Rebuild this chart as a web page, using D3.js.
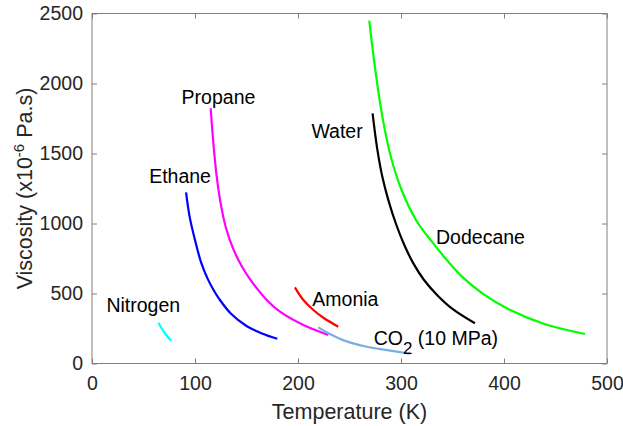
<!DOCTYPE html>
<html>
<head>
<meta charset="utf-8">
<script src="https://cdnjs.cloudflare.com/ajax/libs/d3/7.8.5/d3.min.js"></script>
<style>
    body { margin: 0; background: #fff; }
    svg text { font-family: "Liberation Sans", Arial, Helvetica, sans-serif; }
</style>
</head>
<body>
<div id="chart"></div>
<script>
var width = 623;
var height = 426;
var margin = { top: 13.5, right: 16, bottom: 62.5, left: 92 };

// tick values for the two axes
var x_ticks = [0, 100, 200, 300, 400, 500];
var y_ticks = [0, 500, 1000, 1500, 2000, 2500];

// temperature (K) and viscosity (x10^-6 Pa.s)
var nitrogen_t = [64.4, 70, 76.7];
var nitrogen_v = [291, 225, 163];

var ethane_t = [91.3, 95, 100, 106, 112, 118, 123.6, 135, 150, 165, 179.9];
var ethane_v = [1223, 1040, 882, 720, 610, 525, 460, 355, 268, 215, 177];

var propane_t = [115.2, 118, 121, 125, 130, 137, 145, 154, 169.6, 182.5, 205.2, 229.4];
var propane_v = [1823, 1560, 1340, 1140, 970, 820, 700, 596, 454, 370, 275, 204];

var amonia_t = [197, 205, 214.9, 225, 239.1];
var amonia_v = [544, 455, 382, 325, 263];

var co2_t = [219.7, 230, 247.2, 266.7, 285, 299, 308.7];
var co2_v = [258, 215, 158, 120, 97, 81, 70];

var water_t = [272.4, 277, 282, 288, 295, 303, 312, 322, 335, 350, 371.8];
var water_v = [1787, 1530, 1330, 1160, 1000, 850, 715, 600, 490, 390, 287];

var dodecane_t = [269.2, 275, 282, 290, 300, 315, 330, 345, 360, 380, 405, 440, 478.6];
var dodecane_v = [2449, 2100, 1760, 1480, 1250, 1020, 870, 735, 615, 495, 385, 280, 211];

var series = [
    { name: 'Nitrogen', t: nitrogen_t, v: nitrogen_v, color: '#00ffff' },
    { name: 'Ethane', t: ethane_t, v: ethane_v, color: '#0000ff' },
    { name: 'Propane', t: propane_t, v: propane_v, color: '#ff00ff' },
    { name: 'Amonia', t: amonia_t, v: amonia_v, color: '#ff0000' },
    { name: 'CO2', t: co2_t, v: co2_v, color: '#7aaee3' },
    { name: 'Water', t: water_t, v: water_v, color: '#000000' },
    { name: 'Dodecane', t: dodecane_t, v: dodecane_v, color: '#00ff00' }
];

// annotation text, placed in data units
var labels = [
    { text: 'Nitrogen', t: 14, v: 370 },
    { text: 'Ethane', t: 55.5, v: 1287 },
    { text: 'Propane', t: 87, v: 1853 },
    { text: 'Amonia', t: 213.9, v: 412 },
    { text: 'Water', t: 213, v: 1613 },
    { text: 'Dodecane', t: 334, v: 854 }
];

var svg = d3.select('#chart').append('svg')
    .attr('width', width)
    .attr('height', height);

var x = d3.scaleLinear().domain([0, 500]).range([margin.left, width - margin.right]);
var y = d3.scaleLinear().domain([0, 2500]).range([height - margin.bottom, margin.top]);

var axis_color = '#808080';
var text_color = '#262626';

// box round the plot
svg.append('rect')
    .attr('x', x(0))
    .attr('y', y(2500))
    .attr('width', x(500) - x(0))
    .attr('height', y(0) - y(2500))
    .attr('fill', 'none')
    .attr('stroke', axis_color)
    .attr('stroke-width', 1);

// axes, ticks point inward like matlab
function style_axis(g, labelled) {
    g.select('.domain').remove();
    g.selectAll('.tick line').attr('stroke', axis_color);
    g.selectAll('.tick text')
        .attr('fill', text_color)
        .style('font-size', labelled ? '19.5px' : '0px');
}

svg.append('g')
    .attr('transform', 'translate(0,' + y(0) + ')')
    .call(d3.axisBottom(x).tickValues(x_ticks).tickFormat(d3.format('d')).tickSizeInner(-5).tickPadding(13))
    .call(function (g) { style_axis(g, true); });

svg.append('g')
    .attr('transform', 'translate(0,' + y(2500) + ')')
    .call(d3.axisTop(x).tickValues(x_ticks).tickSizeInner(-5).tickFormat(''))
    .call(function (g) { style_axis(g, false); });

svg.append('g')
    .attr('transform', 'translate(' + x(0) + ',0)')
    .call(d3.axisLeft(y).tickValues(y_ticks).tickFormat(d3.format('d')).tickSizeInner(-5).tickPadding(9))
    .call(function (g) { style_axis(g, true); });

svg.append('g')
    .attr('transform', 'translate(' + x(500) + ',0)')
    .call(d3.axisRight(y).tickValues(y_ticks).tickSizeInner(-5).tickFormat(''))
    .call(function (g) { style_axis(g, false); });

// the curves
var line = d3.line()
    .x(function (d) { return x(d[0]); })
    .y(function (d) { return y(d[1]); })
    .curve(d3.curveCatmullRom.alpha(0.5));

series.forEach(function (s) {
    var pts = s.t.map(function (t, i) { return [t, s.v[i]]; });
    svg.append('path')
        .datum(pts)
        .attr('d', line)
        .attr('fill', 'none')
        .attr('stroke', s.color)
        .attr('stroke-width', 2.2)
        .attr('stroke-linecap', 'butt');
});

// annotations
labels.forEach(function (l) {
    svg.append('text')
        .attr('x', x(l.t))
        .attr('y', y(l.v))
        .attr('fill', '#000')
        .style('font-size', '19.5px')
        .text(l.text);
});

// CO2 label needs a subscript
var co2_label = svg.append('text')
    .attr('x', x(273.5))
    .attr('y', y(132))
    .attr('fill', '#000')
    .style('font-size', '19.5px');
co2_label.append('tspan').text('CO');
co2_label.append('tspan').attr('dy', 9).style('font-size', '17px').text('2');
co2_label.append('tspan').attr('dy', -9).text(' (10 MPa)');

// axis titles
svg.append('text')
    .attr('x', (x(0) + x(500)) / 2)
    .attr('y', 419)
    .attr('text-anchor', 'middle')
    .attr('fill', text_color)
    .style('font-size', '21.5px')
    .text('Temperature (K)');

var y_title = svg.append('text')
    .attr('transform', 'translate(32,' + (y(0) + y(2500)) / 2 + ') rotate(-90)')
    .attr('text-anchor', 'middle')
    .attr('fill', text_color)
    .style('font-size', '21.5px');
y_title.append('tspan').text('Viscosity (x10');
y_title.append('tspan').attr('dy', -8).style('font-size', '15px').text('-6');
y_title.append('tspan').attr('dy', 8).text(' Pa.s)');
</script>
</body>
</html>
